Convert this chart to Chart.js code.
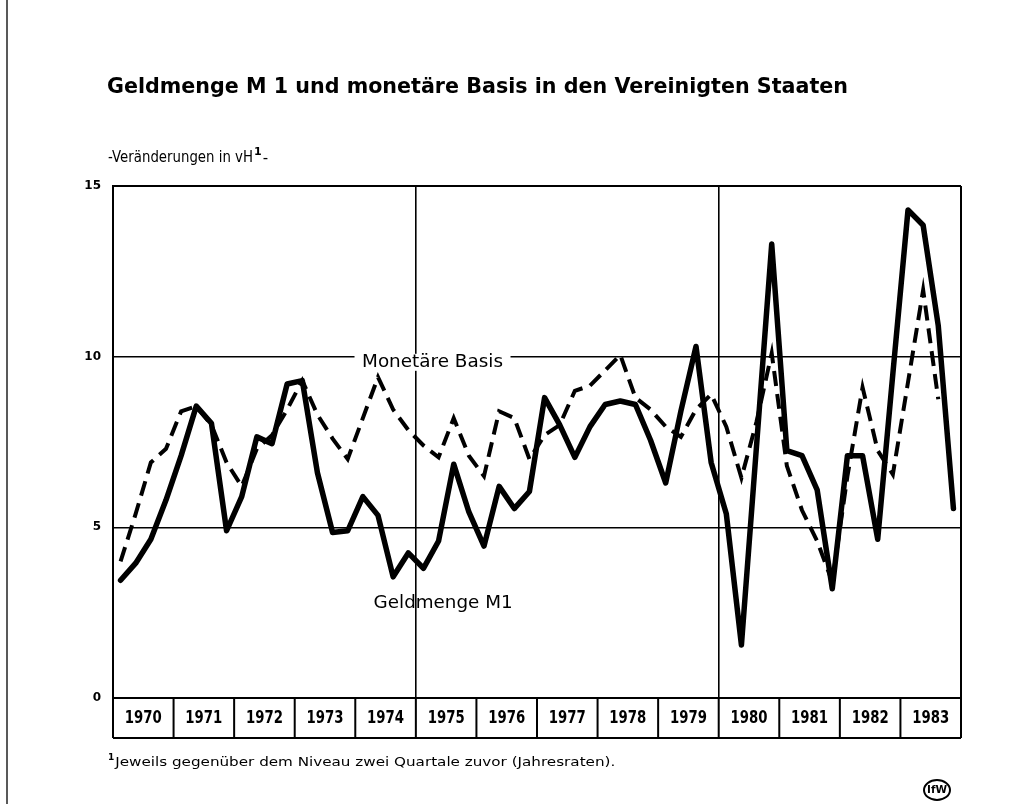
<!DOCTYPE html>
<html>
<head>
<meta charset="utf-8">
<script src="https://cdn.jsdelivr.net/npm/chart.js@4.4.1/dist/chart.umd.min.js"></script>
<style>
    html, body { margin: 0; padding: 0; background: #fff; }
    canvas { display: block; }
</style>
</head>
<body>
<canvas id="geldChart" width="1030" height="804"></canvas>
<script>
// Jahre und Quartale (1970 I bis 1983 IV)
const jahre = [1970, 1971, 1972, 1973, 1974, 1975, 1976, 1977, 1978, 1979, 1980, 1981, 1982, 1983];
const quartale = jahre.flatMap(j => ['I', 'II', 'III', 'IV'].map(q => j + ' ' + q));

// Veränderungen in vH
const geldmengeM1 = [
    3.45, 3.95, 4.65, 5.8,
    7.1, 8.55, 8.05, 4.9,
    5.9, 7.65, 7.45, 9.2,
    9.3, 6.6, 4.85, 4.9,
    5.9, 5.35, 3.55, 4.25,
    3.8, 4.6, 6.85, 5.45,
    4.45, 6.2, 5.55, 6.05,
    8.8, 8.0, 7.05, 7.95,
    8.6, 8.7, 8.6, 7.55,
    6.3, 8.4, 10.3, 6.9,
    5.4, 1.55, 7.4, 13.3,
    7.25, 7.1, 6.1, 3.2,
    7.1, 7.1, 4.65, 9.5,
    14.3, 13.85, 10.9, 5.55
];
const monetaereBasis = [
    4.0, 5.4, 6.9, 7.3,
    8.4, 8.55, 8.0, 6.9,
    6.2, 7.3, 7.7, 8.45,
    9.3, 8.3, 7.6, 7.0,
    8.2, 9.4, 8.45, 7.85,
    7.4, 7.05, 8.2, 7.1,
    6.5, 8.4, 8.2, 7.0,
    7.7, 8.0, 9.0, 9.15,
    9.6, 10.05, 8.8, 8.45,
    7.95, 7.65, 8.45, 8.9,
    7.95, 6.45, 8.1, 10.1,
    6.8, 5.5, 4.6, 3.4,
    6.5, 9.1, 7.25, 6.55,
    9.25, 11.95, 8.75, null
];
const yTicks = [0, 5, 10, 15];

const schrift = "'DejaVu Sans', sans-serif";

// Text auf eine Zielbreite gestaucht zeichnen
function textFit(ctx, text, x, y, font, breite, align) {
    ctx.save();
    ctx.font = font;
    const w = ctx.measureText(text).width;
    const s = breite ? breite / w : 1;
    const links = align === 'center' ? x - (w * s) / 2 : x;
    ctx.translate(links, y);
    ctx.scale(s, 1);
    ctx.textAlign = 'left';
    ctx.textBaseline = 'middle';
    ctx.fillStyle = '#000';
    ctx.fillText(text, 0, 0);
    ctx.restore();
    return w * s;
}

const beschriftung = {
    id: 'beschriftung',
    afterDraw(chart) {
        const ctx = chart.ctx;
        const x = chart.scales.x;
        const y = chart.scales.y;
        const area = chart.chartArea;

        // Seitenrahmen
        ctx.save();
        ctx.strokeStyle = '#222';
        ctx.lineWidth = 1.5;
        ctx.beginPath();
        ctx.moveTo(7, 0);
        ctx.lineTo(7, 804);
        ctx.stroke();
        ctx.restore();

        // Titel und Untertitel
        textFit(ctx, 'Geldmenge M 1 und monetäre Basis in den Vereinigten Staaten', 107, 87,
            'bold 22px ' + schrift, 741);
        let px = 108;
        px += textFit(ctx, '-Veränderungen in vH', px, 158, '15px ' + schrift, 145);
        px += textFit(ctx, '1', px + 1, 152, 'bold 11px ' + schrift) + 2;
        textFit(ctx, '-', px, 159, '15px ' + schrift);

        // Jahreszeile unter dem Diagramm
        const oben = area.bottom;
        const unten = area.bottom + 40;
        const grenze = i => {
            if (i === 0) return area.left;
            if (i === jahre.length) return area.right;
            return (x.getPixelForValue(4 * i - 1) + x.getPixelForValue(4 * i)) / 2;
        };
        ctx.save();
        ctx.strokeStyle = '#000';
        ctx.lineWidth = 2;
        ctx.beginPath();
        for (let i = 0; i <= jahre.length; i++) {
            const gx = grenze(i);
            ctx.moveTo(gx, oben);
            ctx.lineTo(gx, unten);
        }
        ctx.moveTo(area.left, unten);
        ctx.lineTo(area.right, unten);
        ctx.stroke();
        ctx.restore();
        jahre.forEach((j, i) => {
            const mitte = (grenze(i) + grenze(i + 1)) / 2;
            textFit(ctx, String(j), mitte, (oben + unten) / 2 + 1, 'bold 17px ' + schrift, 37, 'center');
        });

        // Reihenbeschriftungen
        const mbX = x.getPixelForValue(20.6);
        const mbY = y.getPixelForValue(9.82);
        ctx.save();
        ctx.fillStyle = '#fff';
        ctx.fillRect(mbX - 78, mbY - 9, 156, 17);
        ctx.restore();
        textFit(ctx, 'Monetäre Basis', mbX, mbY, '17px ' + schrift, 141, 'center');

        const gmX = x.getPixelForValue(21.3);
        const gmY = y.getPixelForValue(2.78);
        textFit(ctx, 'Geldmenge M1', gmX, gmY, '17px ' + schrift, 139, 'center');

        // Fußnote
        let fx = 108;
        fx += textFit(ctx, '1', fx, 758, 'bold 9px ' + schrift) + 1;
        textFit(ctx, 'Jeweils gegenüber dem Niveau zwei Quartale zuvor (Jahresraten).', fx, 763,
            '12px ' + schrift, 500);

        // Emblem
        ctx.save();
        ctx.strokeStyle = '#000';
        ctx.lineWidth = 2;
        ctx.beginPath();
        ctx.ellipse(937, 790, 13, 10, 0, 0, Math.PI * 2);
        ctx.stroke();
        ctx.restore();
        textFit(ctx, 'IfW', 937, 790, 'bold 10px ' + schrift, 20, 'center');
    }
};

const config = {
    type: 'line',
    data: {
        labels: quartale,
        datasets: [{
            label: 'Geldmenge M1',
            data: geldmengeM1,
            borderColor: '#000',
            borderWidth: 5.5,
            pointRadius: 0,
            tension: 0,
            borderJoinStyle: 'round',
            borderCapStyle: 'round'
        }, {
            label: 'Monetäre Basis',
            data: monetaereBasis,
            borderColor: '#000',
            borderWidth: 4,
            borderDash: [15, 8],
            pointRadius: 0,
            tension: 0,
            spanGaps: false
        }]
    },
    options: {
        responsive: false,
        animation: false,
        layout: { padding: { top: 186, right: 69, left: 0, bottom: 0 } },
        plugins: {
            legend: { display: false },
            tooltip: { enabled: false }
        },
        scales: {
            x: {
                type: 'category',
                offset: true,
                grid: {
                    offset: true,
                    drawTicks: false,
                    color: c => (c.type !== 'tick' || [0, 20, 40].includes(c.index)) ? '#000' : 'rgba(0,0,0,0)',
                    lineWidth: c => (c.type !== 'tick' || c.index === 0) ? 2 : 1.6
                },
                border: { display: true, color: '#000', width: 2 },
                ticks: { display: false, autoSkip: false },
                afterFit: s => { s.height = 106; }
            },
            y: {
                min: 0,
                max: 15,
                afterBuildTicks: s => { s.ticks = yTicks.map(v => ({ value: v })); },
                grid: {
                    drawTicks: false,
                    color: '#000',
                    lineWidth: c => (c.tick && (c.tick.value === 0 || c.tick.value === 15)) ? 2 : 1.6
                },
                border: { display: true, color: '#000', width: 2 },
                ticks: {
                    padding: 12,
                    color: '#000',
                    font: { family: 'DejaVu Sans', size: 12, weight: 'bold' }
                },
                afterFit: s => { s.width = 113; }
            }
        }
    },
    plugins: [beschriftung]
};

const geldChart = new Chart(document.getElementById('geldChart'), config);
</script>
</body>
</html>
